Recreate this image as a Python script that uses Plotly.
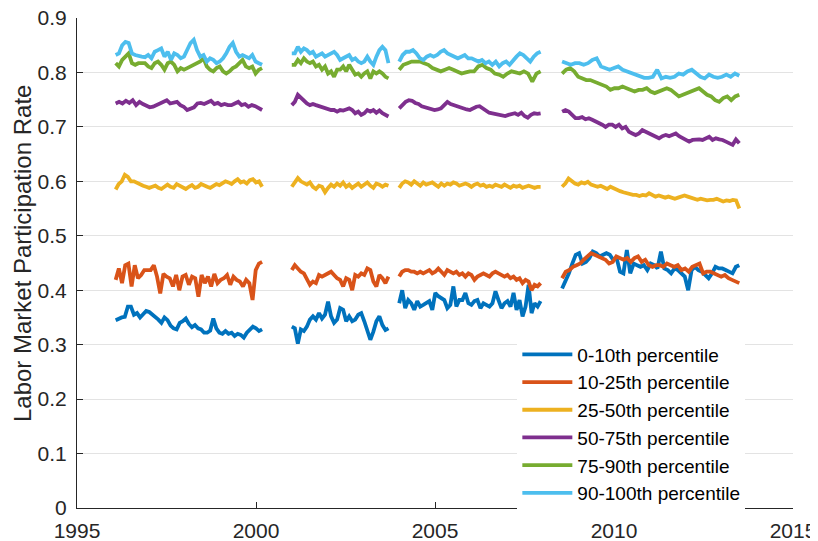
import numpy as np
import plotly.graph_objects as go

# Segment bounds in decimal years (monthly samples, gaps between segments)
seg_bounds = [(1996.08, 2000.17), (2001.0, 2003.70), (2004.0, 2007.95), (2008.55, 2013.50)]

names = ["0-10th percentile", "10-25th percentile", "25-50th percentile",
         "50-75th percentile", "75-90th percentile", "90-100th percentile"]
colors = ["#0072BD", "#D95319", "#EDB120", "#7E2F8E", "#77AC30", "#4DBEEE"]

p0_10 = [
    [0.345,0.348,0.350,0.351,0.370,0.370,0.355,0.358,0.350,0.356,0.362,0.360,0.356,0.350,0.346,0.340,0.350,0.345,0.335,0.330,0.328,0.340,0.343,0.348,0.338,0.332,0.336,0.330,0.328,0.322,0.322,0.326,0.348,0.330,0.322,0.320,0.325,0.320,0.322,0.316,0.320,0.318,0.313,0.322,0.328,0.333,0.330,0.325,0.328],
    [0.333,0.330,0.302,0.328,0.325,0.333,0.346,0.352,0.346,0.358,0.348,0.355,0.379,0.352,0.340,0.346,0.367,0.364,0.343,0.352,0.343,0.346,0.355,0.358,0.343,0.327,0.309,0.324,0.343,0.352,0.336,0.327,0.330],
    [0.376,0.400,0.367,0.382,0.376,0.364,0.380,0.370,0.373,0.376,0.380,0.364,0.395,0.389,0.386,0.382,0.367,0.373,0.407,0.370,0.382,0.382,0.395,0.376,0.373,0.380,0.382,0.367,0.376,0.373,0.370,0.376,0.398,0.382,0.367,0.376,0.380,0.370,0.395,0.364,0.382,0.352,0.370,0.410,0.358,0.376,0.370,0.380],
    [0.403,0.416,0.431,0.449,0.465,0.468,0.449,0.452,0.459,0.471,0.468,0.462,0.465,0.468,0.465,0.456,0.459,0.434,0.431,0.474,0.431,0.449,0.446,0.443,0.446,0.437,0.449,0.446,0.440,0.471,0.440,0.437,0.431,0.440,0.437,0.431,0.425,0.400,0.437,0.443,0.437,0.434,0.428,0.422,0.431,0.443,0.440,0.440,0.437,0.434,0.431,0.443,0.446],
]
p10_25 = [
    [0.419,0.440,0.413,0.446,0.449,0.407,0.446,0.422,0.428,0.437,0.437,0.437,0.446,0.425,0.394,0.430,0.425,0.422,0.407,0.428,0.400,0.425,0.428,0.410,0.425,0.422,0.388,0.428,0.413,0.425,0.407,0.430,0.413,0.419,0.422,0.428,0.410,0.425,0.419,0.416,0.407,0.419,0.413,0.382,0.437,0.449,0.452],
    [0.437,0.446,0.440,0.434,0.431,0.419,0.410,0.416,0.413,0.428,0.425,0.428,0.431,0.434,0.428,0.422,0.419,0.407,0.422,0.419,0.400,0.428,0.425,0.431,0.428,0.440,0.437,0.416,0.407,0.428,0.422,0.413,0.425],
    [0.425,0.434,0.437,0.437,0.434,0.434,0.431,0.434,0.431,0.434,0.437,0.431,0.434,0.440,0.434,0.428,0.437,0.434,0.431,0.434,0.428,0.431,0.425,0.431,0.428,0.419,0.425,0.428,0.431,0.428,0.425,0.431,0.434,0.431,0.428,0.425,0.428,0.422,0.425,0.419,0.422,0.413,0.419,0.416,0.400,0.410,0.407,0.413],
    [0.422,0.434,0.437,0.443,0.446,0.449,0.456,0.462,0.468,0.465,0.462,0.459,0.456,0.449,0.452,0.462,0.459,0.456,0.459,0.452,0.459,0.462,0.452,0.456,0.446,0.443,0.446,0.446,0.443,0.449,0.446,0.443,0.446,0.437,0.440,0.434,0.443,0.446,0.449,0.431,0.434,0.434,0.431,0.428,0.425,0.428,0.422,0.419,0.416,0.413],
]
p25_50 = [
    [0.585,0.595,0.600,0.612,0.608,0.600,0.600,0.597,0.595,0.592,0.590,0.588,0.590,0.592,0.588,0.586,0.590,0.594,0.590,0.588,0.595,0.592,0.590,0.586,0.590,0.593,0.588,0.590,0.595,0.592,0.590,0.588,0.592,0.595,0.593,0.596,0.600,0.598,0.595,0.600,0.604,0.598,0.600,0.596,0.602,0.604,0.598,0.600,0.590],
    [0.590,0.598,0.606,0.600,0.596,0.594,0.598,0.590,0.586,0.592,0.590,0.580,0.588,0.594,0.590,0.596,0.592,0.598,0.590,0.594,0.588,0.592,0.596,0.590,0.594,0.598,0.592,0.588,0.596,0.594,0.590,0.594,0.592],
    [0.588,0.596,0.600,0.598,0.594,0.600,0.596,0.592,0.598,0.594,0.596,0.598,0.594,0.590,0.596,0.592,0.596,0.594,0.598,0.596,0.592,0.594,0.596,0.594,0.590,0.594,0.596,0.592,0.594,0.590,0.592,0.590,0.594,0.592,0.590,0.594,0.590,0.588,0.592,0.590,0.592,0.588,0.590,0.592,0.590,0.588,0.590,0.590],
    [0.590,0.596,0.605,0.600,0.596,0.594,0.598,0.596,0.599,0.594,0.592,0.590,0.592,0.588,0.586,0.590,0.587,0.584,0.582,0.580,0.578,0.576,0.575,0.575,0.573,0.575,0.574,0.578,0.575,0.572,0.574,0.572,0.570,0.572,0.570,0.568,0.570,0.572,0.574,0.572,0.570,0.568,0.566,0.568,0.566,0.565,0.566,0.566,0.568,0.566,0.563,0.565,0.564,0.566,0.565,0.550],
]
p50_75 = [
    [0.743,0.746,0.743,0.748,0.744,0.749,0.740,0.746,0.742,0.738,0.736,0.737,0.740,0.744,0.746,0.749,0.743,0.744,0.746,0.740,0.737,0.731,0.734,0.736,0.743,0.744,0.742,0.746,0.748,0.742,0.744,0.740,0.742,0.740,0.740,0.743,0.746,0.740,0.742,0.737,0.740,0.738,0.734,0.731],
    [0.740,0.746,0.759,0.753,0.749,0.743,0.740,0.742,0.740,0.738,0.737,0.734,0.732,0.731,0.731,0.728,0.731,0.730,0.732,0.734,0.731,0.725,0.728,0.722,0.725,0.731,0.728,0.731,0.726,0.730,0.725,0.722,0.719],
    [0.734,0.740,0.746,0.749,0.748,0.744,0.742,0.738,0.736,0.734,0.732,0.731,0.732,0.734,0.740,0.746,0.742,0.740,0.737,0.736,0.734,0.732,0.731,0.734,0.737,0.738,0.734,0.730,0.726,0.725,0.724,0.722,0.722,0.720,0.722,0.724,0.725,0.722,0.726,0.720,0.717,0.722,0.725,0.724,0.725],
    [0.728,0.731,0.728,0.722,0.716,0.716,0.718,0.714,0.716,0.713,0.710,0.708,0.704,0.700,0.704,0.704,0.700,0.704,0.697,0.700,0.691,0.688,0.685,0.688,0.694,0.691,0.688,0.685,0.682,0.679,0.683,0.685,0.683,0.685,0.688,0.683,0.679,0.676,0.673,0.676,0.677,0.677,0.676,0.679,0.682,0.676,0.679,0.677,0.676,0.673,0.670,0.667,0.677,0.670],
]
p75_90 = [
    [0.817,0.811,0.823,0.829,0.835,0.817,0.814,0.817,0.817,0.817,0.811,0.808,0.817,0.820,0.814,0.805,0.817,0.820,0.814,0.802,0.808,0.805,0.808,0.811,0.814,0.817,0.820,0.826,0.811,0.805,0.802,0.808,0.811,0.802,0.798,0.802,0.808,0.811,0.817,0.823,0.811,0.808,0.811,0.798,0.805,0.808],
    [0.814,0.814,0.823,0.817,0.826,0.820,0.817,0.820,0.811,0.814,0.805,0.811,0.798,0.802,0.792,0.805,0.805,0.811,0.802,0.814,0.805,0.796,0.798,0.792,0.798,0.802,0.789,0.802,0.798,0.802,0.798,0.792,0.789],
    [0.805,0.814,0.817,0.820,0.820,0.820,0.817,0.814,0.808,0.805,0.802,0.805,0.808,0.805,0.802,0.798,0.800,0.802,0.802,0.811,0.814,0.808,0.805,0.798,0.796,0.792,0.798,0.802,0.800,0.798,0.802,0.798,0.783,0.798,0.802],
    [0.798,0.805,0.808,0.802,0.792,0.789,0.786,0.786,0.783,0.780,0.777,0.774,0.768,0.771,0.771,0.774,0.771,0.768,0.765,0.768,0.768,0.771,0.765,0.762,0.765,0.768,0.771,0.768,0.762,0.756,0.759,0.762,0.765,0.768,0.771,0.765,0.759,0.756,0.749,0.746,0.753,0.756,0.749,0.756,0.759],
]
p90_100 = [
    [0.832,0.835,0.850,0.856,0.854,0.835,0.832,0.830,0.829,0.828,0.832,0.826,0.838,0.841,0.844,0.829,0.838,0.823,0.835,0.832,0.826,0.829,0.841,0.854,0.860,0.841,0.829,0.832,0.820,0.826,0.823,0.817,0.820,0.826,0.835,0.847,0.854,0.838,0.829,0.832,0.829,0.826,0.832,0.820,0.817,0.814],
    [0.835,0.835,0.847,0.838,0.844,0.841,0.835,0.838,0.829,0.832,0.835,0.829,0.832,0.835,0.838,0.832,0.823,0.826,0.829,0.832,0.823,0.826,0.820,0.817,0.820,0.829,0.820,0.814,0.829,0.841,0.847,0.841,0.817],
    [0.820,0.832,0.838,0.838,0.841,0.835,0.826,0.823,0.829,0.832,0.829,0.832,0.838,0.841,0.835,0.832,0.829,0.826,0.829,0.832,0.826,0.826,0.823,0.820,0.823,0.817,0.820,0.814,0.820,0.811,0.817,0.820,0.814,0.823,0.829,0.835,0.832,0.826,0.820,0.829,0.835,0.838],
    [0.820,0.817,0.814,0.817,0.817,0.814,0.817,0.823,0.826,0.811,0.808,0.805,0.808,0.811,0.805,0.802,0.798,0.796,0.792,0.790,0.790,0.792,0.805,0.789,0.792,0.790,0.792,0.798,0.796,0.802,0.805,0.798,0.792,0.789,0.796,0.792,0.790,0.792,0.796,0.792,0.798,0.794],
]

series = [p0_10, p10_25, p25_50, p50_75, p75_90, p90_100]

xticks = [1995, 2000, 2005, 2010, 2015]
yticks = [0, 0.1, 0.2, 0.3, 0.4, 0.5, 0.6, 0.7, 0.8, 0.9]
ytitle = "Labor Market Participation Rate"

FONT = "Liberation Sans, Arial, Helvetica, sans-serif"
INK = "#262626"

fig = go.Figure()
for name, color, segs in zip(names, colors, series):
    xs, ys = [], []
    for (a, b), vals in zip(seg_bounds, segs):
        xs += list(np.linspace(a, b, len(vals))) + [None]
        ys += list(vals) + [None]
    fig.add_trace(go.Scatter(x=xs, y=ys, mode="lines", name=name,
                             line=dict(color=color, width=3.8),
                             connectgaps=False))

# page body adds an 8px offset; margins compensate so the axes land where the reference has them
fig.update_layout(
    width=818, height=541,
    margin=dict(l=69, r=33, t=10, b=41, autoexpand=False),
    paper_bgcolor="white", plot_bgcolor="white",
    font=dict(family=FONT, color=INK),
    showlegend=True,
    legend=dict(x=0.615, y=0.352, xanchor="left", yanchor="top",
                bgcolor="white", borderwidth=0, font=dict(size=19, color="black"),
                itemwidth=50, tracegroupgap=0),
    annotations=[dict(text=ytitle, textangle=-90, xref="paper", yref="paper",
                      x=-0.077, y=0.52, xanchor="center", yanchor="middle",
                      showarrow=False, font=dict(size=24, color=INK))],
)
fig.update_xaxes(range=[1995, 2015], tickvals=xticks, ticktext=[str(v) for v in xticks],
                 showline=True, linecolor=INK, linewidth=1, ticks="inside", ticklen=6,
                 tickcolor=INK, showgrid=False, zeroline=False, tickfont=dict(size=21),
                 ticklabelstandoff=4, automargin=False, ticklabeloverflow="allow")
fig.update_yaxes(range=[0, 0.9], tickvals=yticks, ticktext=[f"{v:g}" for v in yticks],
                 showline=True, linecolor=INK, linewidth=1, ticks="inside", ticklen=6,
                 tickcolor=INK, showgrid=True, gridcolor="#e3e3e3", gridwidth=1,
                 zeroline=False, tickfont=dict(size=21), ticklabelstandoff=5, automargin=False,
                 ticklabeloverflow="allow")

fig.write_html("out.html")
